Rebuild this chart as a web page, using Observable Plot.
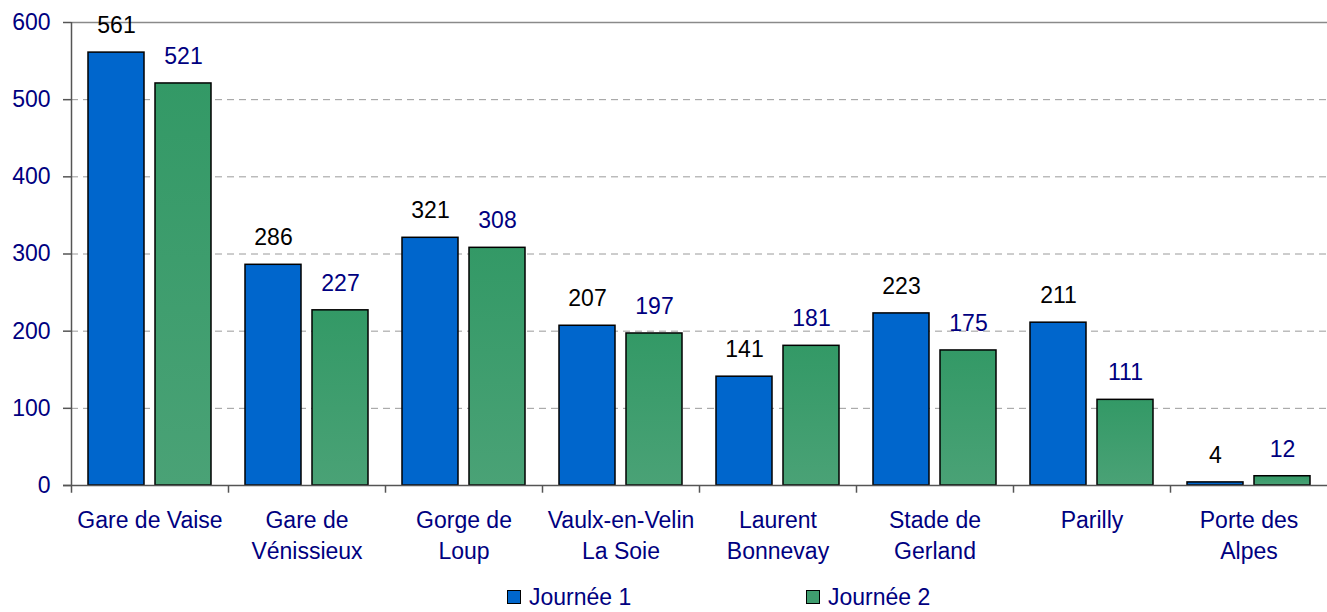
<!DOCTYPE html>
<html>
<head>
<meta charset="utf-8">
<script src="https://cdn.jsdelivr.net/npm/d3@7"></script>
<script src="https://cdn.jsdelivr.net/npm/@observablehq/plot@0.6"></script>
<style>
  body { margin: 0; background: #fff; font-family: "Liberation Sans", Arial, sans-serif; }
  #legend { position: relative; height: 32px; margin-top: 5px; color: #000080; font-size: 23px; line-height: 24px; }
  .item { position: absolute; top: 0; display: flex; align-items: center; }
  .sw { width: 12px; height: 12px; border: 1.5px solid #000; margin-right: 8px; }
</style>
</head>
<body>
<div id="chart"></div>
<div id="legend"></div>
<script>
const categories = ["Gare de Vaise", "Gare de\nVénissieux", "Gorge de\nLoup", "Vaulx-en-Velin\nLa Soie", "Laurent\nBonnevay", "Stade de\nGerland", "Parilly", "Porte des\nAlpes"];
const journee1 = [561, 286, 321, 207, 141, 223, 211, 4];
const journee2 = [521, 227, 308, 197, 181, 175, 111, 12];
const yTicks = [0, 100, 200, 300, 400, 500, 600];
const gridTicks = [100, 200, 300, 400, 500];
const seriesNames = ["Journée 1", "Journée 2"];

const W = 1327, H = 580, mL = 71, mR = 0, mT = 22, mB = 95;
const band = (W - mL - mR) / categories.length;
const barW = 56, outer = 17, gap = 11;
const off1 = outer + barW / 2 - band / 2;
const off2 = outer + barW + gap + barW / 2 - band / 2;
const navy = "#000080";
const font = "Liberation Sans, Arial, sans-serif";
const fs = 23;

const data1 = categories.map((c, i) => ({category: c, value: journee1[i]}));
const data2 = categories.map((c, i) => ({category: c, value: journee2[i]}));

const chart = Plot.plot({
  width: W, height: H,
  marginLeft: mL, marginRight: mR, marginTop: mT, marginBottom: mB,
  style: {fontFamily: font, background: "#fff"},
  x: {type: "band", domain: categories, padding: 0, axis: null},
  y: {domain: [0, 600], axis: null},
  marks: [
    Plot.ruleY(gridTicks, {stroke: "#9a9a9a", strokeDasharray: "7,5", strokeWidth: 1}),
    Plot.ruleY([600], {stroke: "#8a8a8a", strokeWidth: 1.5}),
    Plot.barY(data1, {x: "category", y: "value", insetLeft: outer, insetRight: band - outer - barW, fill: "#0066CC", stroke: "#000", strokeWidth: 1.5}),
    Plot.barY(data2, {x: "category", y: "value", insetLeft: outer + barW + gap, insetRight: outer, fill: "url(#greenGrad)", stroke: "#000", strokeWidth: 1.5}),
    Plot.ruleY([0], {stroke: "#555", strokeWidth: 1.5, insetLeft: -8}),
    Plot.ruleX([categories[0]], {x: d => d, dx: -band / 2, y1: -10, y2: 600, stroke: "#555", strokeWidth: 1.5}),
    Plot.ruleX(categories.slice(1), {x: d => d, dx: -band / 2, y1: -10, y2: 0, stroke: "#555", strokeWidth: 1.5}),
    Plot.axisY({ticks: yTicks, tickSize: 8, tickPadding: 13, fontSize: fs, stroke: "#555", strokeWidth: 1.5, fill: navy, tickFormat: d3.format("d"), label: null}),
    Plot.text(data1, {x: "category", y: "value", dx: off1, dy: -27, text: d => String(d.value), fontSize: fs, fill: "#000"}),
    Plot.text(data2, {x: "category", y: "value", dx: off2, dy: -27, text: d => String(d.value), fontSize: fs, fill: navy}),
    Plot.text(categories, {x: d => d, frameAnchor: "bottom", lineAnchor: "top", dy: 20, lineHeight: 1.35, text: d => d, fontSize: fs, fill: navy})
  ]
});

const ns = "http://www.w3.org/2000/svg";
const defs = document.createElementNS(ns, "defs");
const grad = document.createElementNS(ns, "linearGradient");
grad.setAttribute("id", "greenGrad");
grad.setAttribute("x1", "0"); grad.setAttribute("y1", "0");
grad.setAttribute("x2", "0"); grad.setAttribute("y2", "1");
[["0", "#339966"], ["1", "#4aa276"]].forEach(([o, c]) => {
  const s = document.createElementNS(ns, "stop");
  s.setAttribute("offset", o); s.setAttribute("stop-color", c);
  grad.appendChild(s);
});
defs.appendChild(grad);
chart.insertBefore(defs, chart.firstChild);
document.getElementById("chart").appendChild(chart);

const legendColors = ["#0066CC", "#3f9d6e"];
const legendX = [507, 806];
const legend = document.getElementById("legend");
seriesNames.forEach((name, i) => {
  const item = document.createElement("div");
  item.className = "item";
  item.style.left = legendX[i] + "px";
  const sw = document.createElement("span");
  sw.className = "sw";
  sw.style.background = legendColors[i];
  const t = document.createElement("span");
  t.textContent = name;
  item.appendChild(sw); item.appendChild(t);
  legend.appendChild(item);
});
</script>
</body>
</html>
